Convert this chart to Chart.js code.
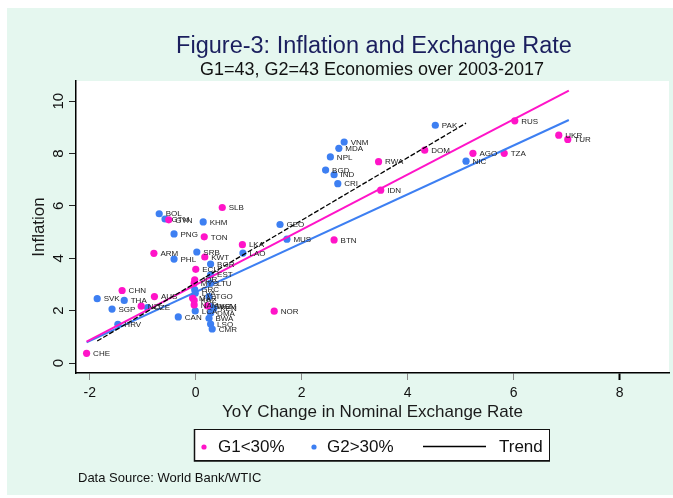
<!DOCTYPE html>
<html lang="en">
<head>
<meta charset="UTF-8" />
<title>Figure-3: Inflation and Exchange Rate</title>
<script src="https://cdn.jsdelivr.net/npm/chart.js"></script>
<style>
  * { margin: 0; padding: 0; box-sizing: border-box; }
  body { background: #fff; width: 673px; height: 498px; overflow: hidden; }
  #wrap { position: relative; width: 673px; height: 498px; }
</style>
</head>
<body>
<div id="wrap"><canvas id="scatterChart"></canvas></div>
<script>
// G1 (<30%) economies
const g1Codes = ['CHE', 'CHN', 'AUS', 'NZL', 'ARM', 'GYN', 'SLB', 'TON', 'KWT', 'ECU', 'LKA', 'NOR', 'BTN',
  'RWA', 'IDN', 'DOM', 'AGO', 'TZA', 'RUS', 'UKR', 'TUR', 'JOR', 'MYS', 'MAR', 'KAZ', 'NAM', 'SWZ'];
const g1X = [-2.06, -1.39, -0.78, -1.03, -0.79, -0.51, 0.50, 0.16, 0.17, 0.00, 0.88, 1.48, 2.61,
  3.45, 3.49, 4.32, 5.23, 5.82, 6.02, 6.85, 7.02, -0.02, -0.03, -0.06, -0.03, -0.03, 0.22];
const g1Y = [0.37, 2.77, 2.54, 2.17, 4.19, 5.47, 5.94, 4.82, 4.05, 3.58, 4.52, 1.98, 4.70,
  7.69, 6.60, 8.13, 8.01, 8.01, 9.25, 8.70, 8.54, 3.18, 3.05, 2.48, 2.39, 2.22, 2.18];

// G2 (>30%) economies
const g2Codes = ['SVK', 'THA', 'SGP', 'CZE', 'HRV', 'CAN', 'BOL', 'GTM', 'KHM', 'PNG', 'PHL', 'SRB', 'BGR',
  'LAO', 'GEO', 'MUS', 'CRI', 'IND', 'BGD', 'NPL', 'MDA', 'VNM', 'PAK', 'NIC',
  'EST', 'LTU', 'GRC', 'LVA', 'TGO', 'WSM', 'KEN', 'LCA', 'DMA', 'BWA', 'LSO', 'CMR'];
const g2X = [-1.86, -1.35, -1.58, -0.91, -1.47, -0.33, -0.69, -0.58, 0.14, -0.41, -0.41, 0.02, 0.28,
  0.89, 1.59, 1.72, 2.68, 2.61, 2.45, 2.54, 2.70, 2.80, 4.52, 5.10,
  0.28, 0.28, -0.02, -0.01, 0.25, 0.28, 0.34, -0.01, 0.28, 0.25, 0.28, 0.31];
const g2Y = [2.46, 2.39, 2.06, 2.12, 1.48, 1.76, 5.70, 5.50, 5.39, 4.93, 3.97, 4.24, 3.78,
  4.20, 5.29, 4.73, 6.85, 7.19, 7.37, 7.87, 8.20, 8.44, 9.08, 7.71,
  3.37, 3.05, 2.80, 2.67, 2.54, 2.16, 2.09, 1.99, 1.91, 1.71, 1.49, 1.30];

// fitted lines (end points)
const fitG1X = [-2.06, 7.04];
const fitG1Y = [0.82, 10.40];
const fitG2X = [-2.06, 7.04];
const fitG2Y = [0.79, 9.28];
const trendX = [-1.86, 5.10];
const trendY = [0.84, 9.16];

const xTicks = [-2, 0, 2, 4, 6, 8];
const yTicks = [0, 2, 4, 6, 8, 10];

const PINK = '#ff14c8';
const BLUE = '#3d7ff2';
const MINT = '#e5f7ef';
const FONT = "'Liberation Sans', Arial, sans-serif";

const toPoints = (xs, ys) => xs.map((x, i) => ({ x: x, y: ys[i] }));

// backgrounds: mint page, white plot region
const bgPlugin = {
  id: 'bgPlugin',
  beforeDraw(chart) {
    const { ctx, chartArea } = chart;
    ctx.save();
    ctx.fillStyle = '#fff';
    ctx.fillRect(0, 0, chart.width, chart.height);
    ctx.fillStyle = MINT;
    ctx.fillRect(7, 8, chart.width - 7, chart.height - 11);
    ctx.fillStyle = '#fff';
    ctx.fillRect(chartArea.left, chartArea.top, chartArea.right - chartArea.left, chartArea.bottom - chartArea.top);
    ctx.restore();
  }
};

// country code next to every dot
const codePlugin = {
  id: 'codePlugin',
  afterDatasetsDraw(chart) {
    const ctx = chart.ctx;
    ctx.save();
    ctx.font = '8px ' + FONT;
    ctx.fillStyle = '#222';
    ctx.textBaseline = 'middle';
    ctx.textAlign = 'left';
    [[0, g1Codes], [1, g2Codes]].forEach(([idx, codes]) => {
      chart.getDatasetMeta(idx).data.forEach((pt, i) => {
        ctx.fillText(codes[i], pt.x + 6.5, pt.y + 0.5);
      });
    });
    ctx.restore();
  }
};

// rotated y tick labels, titles, legend box and source note
const decoPlugin = {
  id: 'decoPlugin',
  afterDraw(chart) {
    const ctx = chart.ctx;
    const yScale = chart.scales.y;
    ctx.save();

    ctx.font = '15px ' + FONT;
    ctx.fillStyle = '#111';
    ctx.textAlign = 'center';
    ctx.textBaseline = 'middle';
    yTicks.forEach(v => {
      const py = yScale.getPixelForValue(v);
      ctx.save();
      ctx.translate(59, py);
      ctx.rotate(-Math.PI / 2);
      ctx.fillText(String(v), 0, 0);
      ctx.restore();
    });

    ctx.fillStyle = '#1b1f5e';
    ctx.font = '23.5px ' + FONT;
    ctx.fillText('Figure-3: Inflation and Exchange Rate', 374, 47);
    ctx.fillStyle = '#111';
    ctx.font = '18px ' + FONT;
    ctx.fillText('G1=43, G2=43 Economies over 2003-2017', 372, 70);

    // legend
    ctx.fillStyle = '#fff';
    ctx.fillRect(194, 429, 356, 32);
    ctx.strokeStyle = '#111';
    ctx.lineWidth = 1;
    ctx.strokeRect(194.5, 429.5, 355, 31);
    ctx.lineWidth = 1.5;
    ctx.beginPath();
    ctx.moveTo(194.5, 429);
    ctx.lineTo(194.5, 461);
    ctx.lineTo(550, 461);
    ctx.stroke();

    ctx.fillStyle = PINK;
    ctx.beginPath();
    ctx.arc(204, 447, 2.6, 0, Math.PI * 2);
    ctx.fill();
    ctx.fillStyle = BLUE;
    ctx.beginPath();
    ctx.arc(314, 447, 2.6, 0, Math.PI * 2);
    ctx.fill();
    ctx.strokeStyle = '#000';
    ctx.lineWidth = 1.5;
    ctx.beginPath();
    ctx.moveTo(423, 446.5);
    ctx.lineTo(486, 446.5);
    ctx.stroke();

    ctx.fillStyle = '#111';
    ctx.font = '17px ' + FONT;
    ctx.textAlign = 'left';
    ctx.fillText('G1<30%', 218, 447);
    ctx.fillText('G2>30%', 327, 447);
    ctx.fillText('Trend', 499, 447);

    ctx.font = '13px ' + FONT;
    ctx.fillText('Data Source: World Bank/WTIC', 78, 478);
    ctx.restore();
  }
};

const ctx = document.getElementById('scatterChart').getContext('2d');
new Chart(ctx, {
  type: 'scatter',
  data: {
    datasets: [
      {
        label: 'G1<30%',
        data: toPoints(g1X, g1Y),
        backgroundColor: PINK,
        borderWidth: 0,
        pointRadius: 3.6,
        order: 2
      },
      {
        label: 'G2>30%',
        data: toPoints(g2X, g2Y),
        backgroundColor: BLUE,
        borderWidth: 0,
        pointRadius: 3.6,
        order: 3
      },
      {
        label: 'Fit G1',
        data: toPoints(fitG1X, fitG1Y),
        showLine: true,
        borderColor: PINK,
        borderWidth: 2,
        pointRadius: 0,
        order: 1
      },
      {
        label: 'Fit G2',
        data: toPoints(fitG2X, fitG2Y),
        showLine: true,
        borderColor: BLUE,
        borderWidth: 2,
        pointRadius: 0,
        order: 1
      },
      {
        label: 'Trend',
        data: toPoints(trendX, trendY),
        showLine: true,
        borderColor: '#000',
        borderWidth: 1.3,
        borderDash: [5, 2],
        pointRadius: 0,
        order: 0
      }
    ]
  },
  options: {
    responsive: true,
    maintainAspectRatio: false,
    animation: false,
    layout: { padding: { top: 81, left: 0, right: 2, bottom: 0 } },
    plugins: {
      legend: { display: false },
      tooltip: { enabled: false }
    },
    scales: {
      x: {
        type: 'linear',
        min: -2.26,
        max: 8.93,
        afterBuildTicks: (scale) => { scale.ticks = xTicks.map(v => ({ value: v })); },
        afterFit: (scale) => { scale.height = 125; },
        grid: {
          drawOnChartArea: false,
          drawTicks: true,
          tickLength: 7,
          tickColor: (c) => (c.tick && c.tick.value === 8 ? '#000' : '#888'),
          tickWidth: (c) => (c.tick && c.tick.value === 8 ? 2 : 1)
        },
        border: { color: '#000', width: 1.5 },
        ticks: {
          color: '#111',
          padding: 5,
          font: { size: 14, family: FONT },
          callback: (v) => String(v)
        },
        title: {
          display: true,
          text: 'YoY Change in Nominal Exchange Rate',
          color: '#1a1a1a',
          font: { size: 17, family: FONT },
          padding: { top: 0, bottom: 75 }
        }
      },
      y: {
        type: 'linear',
        min: -0.38,
        max: 10.77,
        afterBuildTicks: (scale) => { scale.ticks = yTicks.map(v => ({ value: v })); },
        afterFit: (scale) => { scale.width = 76; },
        grid: {
          drawOnChartArea: false,
          drawTicks: true,
          tickLength: 7,
          tickColor: '#222'
        },
        border: { color: '#000', width: 1.5 },
        ticks: { display: false },
        title: {
          display: true,
          text: 'Inflation',
          color: '#1a1a1a',
          font: { size: 17, family: FONT },
          padding: { top: 29, bottom: 0 }
        }
      }
    }
  },
  plugins: [bgPlugin, codePlugin, decoPlugin]
});
</script>
</body>
</html>
